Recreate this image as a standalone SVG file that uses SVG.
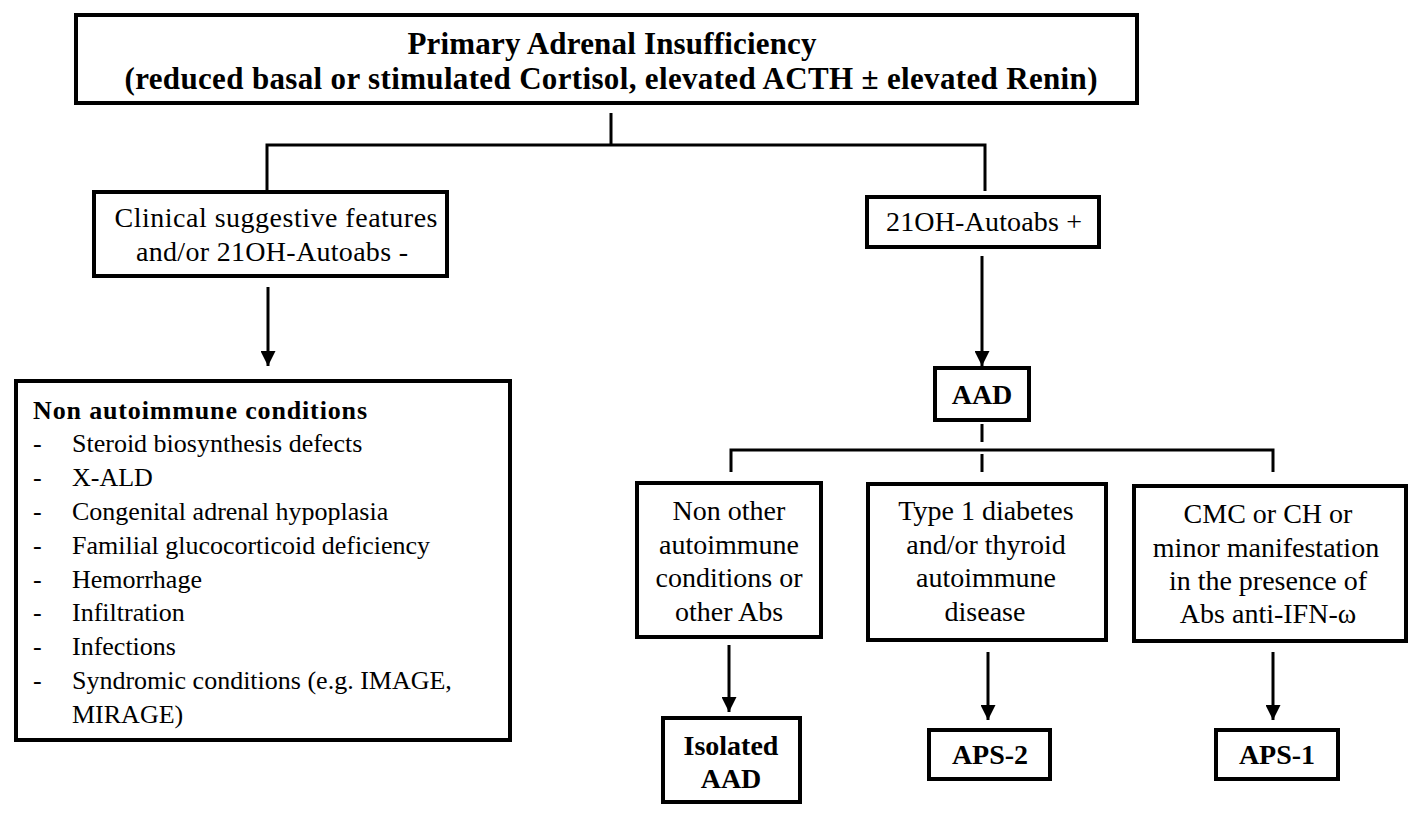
<svg xmlns="http://www.w3.org/2000/svg" width="1417" height="817" viewBox="0 0 1417 817">
<defs>
<marker id="arr" viewBox="0 0 10 10" refX="10" refY="5" markerWidth="5" markerHeight="5" orient="auto" markerUnits="strokeWidth">
<path d="M0,0 L10,5 L0,10 z" fill="#000"/>
</marker>
<style>
.box{fill:#fff;stroke:#000;stroke-width:4}
.t{font-family:'Liberation Serif','Times New Roman',serif;font-size:28px;fill:#000}
.tt{font-size:31px}
.s{font-size:26px}
.b{font-weight:bold}
.c{text-anchor:middle}
.ln{stroke:#000;stroke-width:3;fill:none}
.dash{stroke-dasharray:18 12}
</style>
</defs>
<rect width="1417" height="817" fill="#fff"/>
<g id="connectors">
<line class="ln" x1="611" y1="113" x2="611" y2="146"/>
<polyline class="ln" points="267,191 267,145 985,145 985,191"/>
<line class="ln" x1="268" y1="287" x2="268" y2="366" marker-end="url(#arr)"/>
<line class="ln" x1="982" y1="256" x2="982" y2="366" marker-end="url(#arr)"/>
<line class="ln dash" x1="982" y1="424" x2="982" y2="482"/>
<polyline class="ln" points="731,472 731,450 1273,450 1273,472"/>
<line class="ln" x1="729" y1="645" x2="729" y2="712" marker-end="url(#arr)"/>
<line class="ln" x1="988" y1="652" x2="988" y2="720" marker-end="url(#arr)"/>
<line class="ln" x1="1273" y1="652" x2="1273" y2="720" marker-end="url(#arr)"/>
</g>
<g id="n-top">
<rect class="box" x="76" y="15" width="1061" height="88"/>
<text class="t tt b c" x="612" y="54" textLength="409">Primary Adrenal Insufficiency</text>
<text class="t tt b c" x="611" y="89" textLength="973">(reduced basal or stimulated Cortisol, elevated ACTH ± elevated Renin)</text>
</g>
<g id="n-clinical">
<rect class="box" x="94" y="192" width="353" height="84"/>
<text class="t c" x="276" y="227" textLength="323">Clinical suggestive features</text>
<text class="t c" x="272" y="261" textLength="272">and/or 21OH-Autoabs -</text>
</g>
<g id="n-nonauto">
<rect class="box" x="16" y="381" width="494" height="359"/>
<text class="t s b" x="33" y="419" textLength="334">Non autoimmune  conditions</text>
<g class="t s">
<text x="33" y="452">-</text><text x="72" y="452">Steroid biosynthesis  defects</text>
<text x="33" y="486">-</text><text x="72" y="486">X-ALD</text>
<text x="33" y="520">-</text><text x="72" y="520">Congenital  adrenal  hypoplasia</text>
<text x="33" y="554">-</text><text x="72" y="554">Familial glucocorticoid deficiency</text>
<text x="33" y="588">-</text><text x="72" y="588">Hemorrhage</text>
<text x="33" y="621">-</text><text x="72" y="621">Infiltration</text>
<text x="33" y="655">-</text><text x="72" y="655">Infections</text>
<text x="33" y="689">-</text><text x="72" y="689">Syndromic  conditions (e.g. IMAGE,</text>
<text x="72" y="723">MIRAGE)</text>
</g>
</g>
<g id="n-autoabs">
<rect class="box" x="867" y="197" width="232" height="50"/>
<text class="t c" x="984" y="231" textLength="196">21OH-Autoabs +</text>
</g>
<g id="n-aad">
<rect class="box" x="935" y="368" width="94" height="52"/>
<text class="t b c" x="982" y="404">AAD</text>
</g>
<g id="n-nonother">
<rect class="box" x="637" y="483" width="184" height="154"/>
<text class="t c" x="729" y="520">Non other</text>
<text class="t c" x="729" y="554">autoimmune</text>
<text class="t c" x="729" y="587">conditions or</text>
<text class="t c" x="729" y="621">other Abs</text>
</g>
<g id="n-type1">
<rect class="box" x="868" y="484" width="238" height="156"/>
<text class="t c" x="986" y="520">Type  1 diabetes</text>
<text class="t c" x="986" y="554">and/or thyroid</text>
<text class="t c" x="986" y="587">autoimmune</text>
<text class="t c" x="985" y="621">disease</text>
</g>
<g id="n-cmc">
<rect class="box" x="1134" y="486" width="272" height="155"/>
<text class="t c" x="1268" y="523">CMC or CH or</text>
<text class="t c" x="1266" y="557">minor manifestation</text>
<text class="t c" x="1268" y="590">in the presence  of</text>
<text class="t c" x="1268" y="623">Abs anti-IFN-ω</text>
</g>
<g id="n-isolated">
<rect class="box" x="663" y="718" width="137" height="84"/>
<text class="t b c" x="731" y="755">Isolated</text>
<text class="t b c" x="731" y="788">AAD</text>
</g>
<g id="n-aps2">
<rect class="box" x="929" y="730" width="121" height="49"/>
<text class="t b c" x="990" y="764">APS-2</text>
</g>
<g id="n-aps1">
<rect class="box" x="1216" y="730" width="122" height="49"/>
<text class="t b c" x="1277" y="764">APS-1</text>
</g>
</svg>
